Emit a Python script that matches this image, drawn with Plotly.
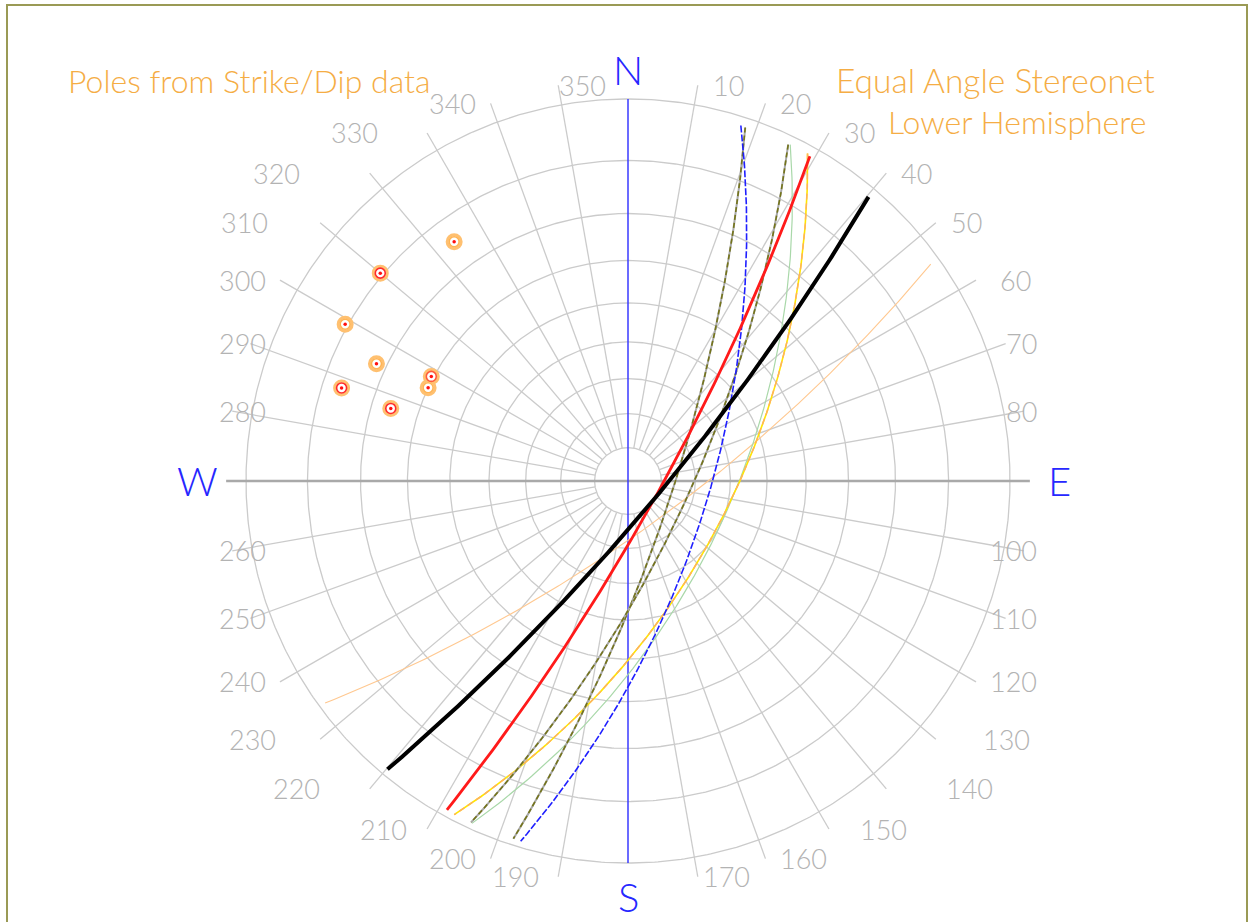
import numpy as np
import plotly.graph_objects as go

# ---- measured planes (right-hand-rule strike / dip, degrees) ----
strike = [54, 40, 29, 25, 28, 25, 18, 17]
dip = [75.5, 80.5, 80.5, 72, 60.5, 60, 76.5, 66]

# azimuth tick labels around the net
tick_az = [a for a in range(10, 360, 10) if a not in (90, 180, 270)]
tick_text = [str(a) for a in tick_az]
cardinals = ["N", "E", "S", "W"]
cardinal_az = [0, 90, 180, 270]

# grid: small circles of plunge, spokes every 10 degrees
grid_plunges = [80, 70, 60, 50, 40, 30, 20, 10, 0]
spoke_az = list(range(0, 360, 10))

# ---- canvas geometry (unit circle = primitive) ----
W, H = 1250, 922
R_PX, CX, CY = 382.0, 628.0, 481.0
SPOKE_END = 1.052


def to_xy(trend_deg, r):
    t = np.radians(trend_deg)
    return r * np.sin(t), r * np.cos(t)


def stereo_r(plunge_deg):
    return np.tan(np.radians(90.0 - np.asarray(plunge_deg)) / 2.0)


def great_circle(s, d, n=240):
    s_r, d_r = np.radians(s), np.radians(d)
    sv = np.array([np.sin(s_r), np.cos(s_r), 0.0])
    dd = s_r + np.pi / 2
    dv = np.array([np.cos(d_r) * np.sin(dd), np.cos(d_r) * np.cos(dd), -np.sin(d_r)])
    t = np.radians(np.linspace(1.5, 179.0, n))
    v = np.outer(np.cos(t), sv) + np.outer(np.sin(t), dv)
    plunge = np.degrees(np.arcsin(-v[:, 2]))
    trend = np.degrees(np.arctan2(v[:, 0], v[:, 1]))
    return to_xy(trend, stereo_r(plunge))


fig = go.Figure()

GRID = "#cbcbcb"
# plunge circles
phi = np.linspace(0, 360, 721)
for p in grid_plunges:
    x, y = to_xy(phi, stereo_r(p))
    fig.add_trace(go.Scatter(x=x, y=y, mode="lines", line=dict(color=GRID, width=1.3),
                             hoverinfo="skip", showlegend=False))

# spokes
r_in = float(stereo_r(80))
for a in spoke_az:
    if a in (0, 90, 180, 270):
        continue
    x, y = to_xy(np.array([a, a]), np.array([r_in, SPOKE_END]))
    fig.add_trace(go.Scatter(x=x, y=y, mode="lines", line=dict(color=GRID, width=1.3),
                             hoverinfo="skip", showlegend=False))

# W-E axis (grey) and N-S axis (blue)
x, y = to_xy(np.array([270, 90]), np.array([SPOKE_END, SPOKE_END]))
fig.add_trace(go.Scatter(x=x, y=y, mode="lines", line=dict(color="#a9a9a9", width=2.6),
                         hoverinfo="skip", showlegend=False))
x, y = to_xy(np.array([0, 180]), np.array([1.0, 1.0]))
fig.add_trace(go.Scatter(x=x, y=y, mode="lines", line=dict(color="#3a3aff", width=1.5),
                         hoverinfo="skip", showlegend=False))

# ---- great circles ----
styles = [
    [dict(color="#ffc890", width=1.1)],                                     # 54
    [dict(color="#000000", width=4.0)],                                     # 40
    [dict(color="#ff1a1a", width=2.8)],                                     # 29
    [dict(color="#a8a8a8", width=2.0), dict(color="#74741a", width=1.6, dash="5px,3px")],  # 25 steep
    [dict(color="#ffe600", width=1.6), dict(color="#ffb060", width=1.4, dash="6px,4px")],  # 28
    [dict(color="#a9d8a9", width=1.2)],                                     # 25 moderate
    [dict(color="#a8a8a8", width=2.0), dict(color="#74741a", width=1.6, dash="5px,3px")],  # 18
    [dict(color="#1f1fff", width=1.6, dash="7px,2px")],                     # 17
]
draw_order = [0, 5, 4, 6, 3, 7, 2, 1]
for i in draw_order:
    gx, gy = great_circle(strike[i], dip[i])
    for st in styles[i]:
        fig.add_trace(go.Scatter(x=gx, y=gy, mode="lines", line=st,
                                 hoverinfo="skip", showlegend=False))

# ---- poles to planes ----
pole_trend = [(s - 90) % 360 for s in strike]
pole_plunge = [90 - d for d in dip]
px, py = to_xy(np.array(pole_trend, float), stereo_r(pole_plunge))
ring_colors = ["#ffb454", "#ff2a2a", "#ffb454", "#ffb454", "#ff5a3a", "#ffb454", "#ff2a2a", "#ff2a2a"]
fig.add_trace(go.Scatter(x=px, y=py, mode="markers",
                         marker=dict(symbol="circle", size=14, color="white",
                                     line=dict(color="#ffc070", width=3)),
                         hoverinfo="skip", showlegend=False))
fig.add_trace(go.Scatter(x=px, y=py, mode="markers",
                         marker=dict(symbol="circle", size=10, color="white",
                                     line=dict(color=ring_colors, width=1.6)),
                         hoverinfo="skip", showlegend=False))
fig.add_trace(go.Scatter(x=px, y=py, mode="markers",
                         marker=dict(symbol="circle", size=3.5, color="#ff1010"),
                         hoverinfo="skip", showlegend=False))

# ---- azimuth labels ----
LABEL_FONT = dict(family="Lato", size=27, color="#b3b3b3", weight=300)
DEFAULT_GAP = 13.0
# extra clearance between spoke end and label for the diagonal labels
label_gap_px = {60: 22, 130: 45, 140: 58, 150: 29, 170: 3, 190: 17, 210: 18,
                220: 48, 230: 42, 310: 50, 320: 68, 330: 47}
# labels written on the inner side of their spoke end
inner_side = {350: -1}
x_lim = 407.0 / R_PX          # labels stay inside this half-width
char_w = 15.6 / R_PX
annotations = []
for a, txt in zip(tick_az, tick_text):
    ex, ey = to_xy(a, SPOKE_END)
    w = char_w * len(txt)
    right_side = np.sin(np.radians(a)) > 0
    if a in inner_side:
        annotations.append(dict(x=float(ex + inner_side[a] / R_PX), y=float(ey), text=txt,
                                showarrow=False, xanchor="left" if not right_side else "right",
                                yanchor="middle", font=LABEL_FONT))
        continue
    g = label_gap_px.get(a, DEFAULT_GAP) / R_PX
    if right_side:
        xl = min(ex + g, x_lim - w)
        annotations.append(dict(x=float(xl), y=float(ey), text=txt, showarrow=False,
                                xanchor="left", yanchor="middle", font=LABEL_FONT))
    else:
        xr = max(ex - g, -x_lim + w)
        annotations.append(dict(x=float(xr), y=float(ey), text=txt, showarrow=False,
                                xanchor="right", yanchor="middle", font=LABEL_FONT))

CARD_FONT = dict(family="Lato", size=40, color="#2727ff", weight=300)
card_r = {"N": 1.075, "S": 1.088, "E": 1.13, "W": 1.128}
for c, a in zip(cardinals, cardinal_az):
    cx_, cy_ = to_xy(a, card_r[c])
    annotations.append(dict(x=float(cx_), y=float(cy_), text=c, showarrow=False,
                            xanchor="center", yanchor="middle", height=34,
                            font=CARD_FONT))

TITLE_FONT = dict(family="Lato", size=32, color="#f5ad45", weight=300)
annotations.append(dict(xref="paper", yref="paper", x=66 / W, y=1 - 80 / H,
                        text="Poles from Strike/Dip data", showarrow=False,
                        xanchor="left", yanchor="middle", font=TITLE_FONT))
annotations.append(dict(xref="paper", yref="paper", x=834 / W, y=1 - 80 / H,
                        text="Equal Angle Stereonet", showarrow=False,
                        xanchor="left", yanchor="middle",
                        font=dict(TITLE_FONT, size=33.5)))
annotations.append(dict(xref="paper", yref="paper", x=886 / W, y=1 - 122 / H,
                        text="Lower Hemisphere", showarrow=False,
                        xanchor="left", yanchor="middle", font=TITLE_FONT))

fig.update_layout(
    width=W, height=H,
    margin=dict(l=0, r=0, t=0, b=0),
    paper_bgcolor="white", plot_bgcolor="white",
    xaxis=dict(range=[-CX / R_PX, (W - CX) / R_PX], visible=False, fixedrange=True),
    yaxis=dict(range=[-(H - CY) / R_PX, CY / R_PX], visible=False, fixedrange=True),
    annotations=annotations,
    shapes=[dict(type="rect", xref="paper", yref="paper",
                 x0=7 / W, x1=1247 / W, y0=-0.05, y1=1 - 5 / H,
                 line=dict(color="#9a9a55", width=2))],
)

fig.write_html("out.html")
